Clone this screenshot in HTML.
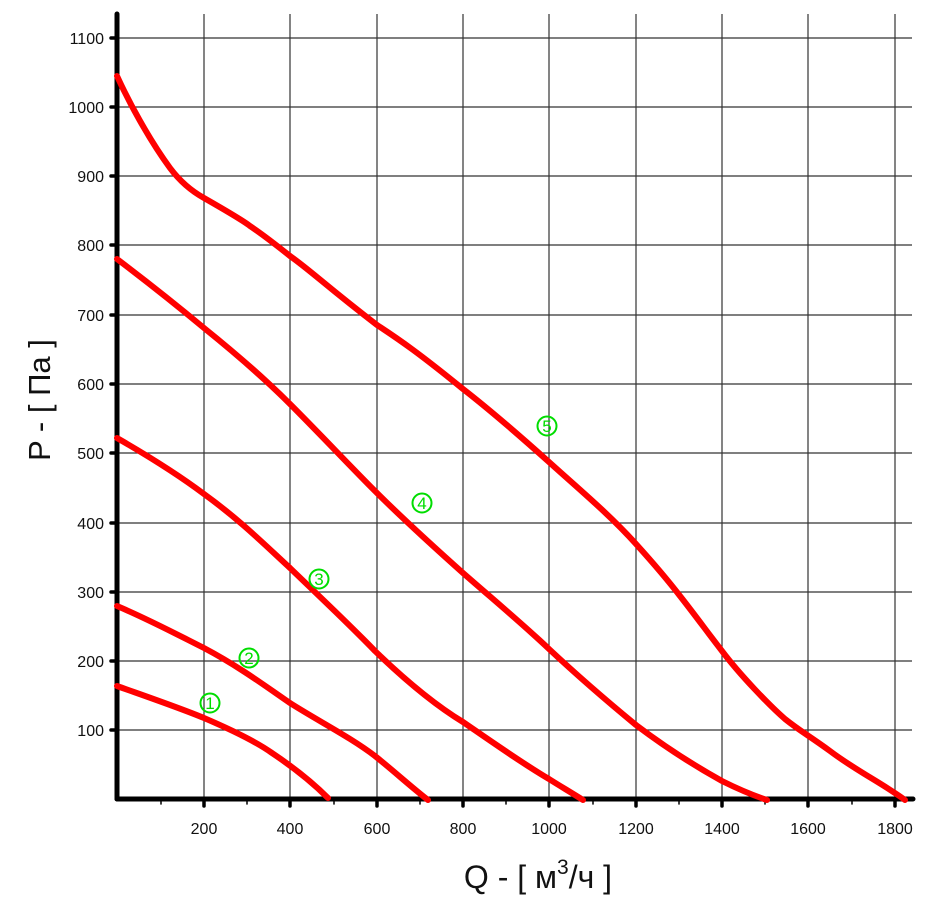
<!DOCTYPE html>
<html><head><meta charset="utf-8"><style>body{margin:0;background:#fff}svg{display:block}</style></head>
<body>
<svg width="928" height="900" viewBox="0 0 928 900" xmlns="http://www.w3.org/2000/svg" font-family="Liberation Sans, Arial, sans-serif">
<g stroke="#333" stroke-width="1.2">
<line x1="204" y1="14" x2="204" y2="799"/><line x1="290" y1="14" x2="290" y2="799"/><line x1="377" y1="14" x2="377" y2="799"/><line x1="463" y1="14" x2="463" y2="799"/><line x1="549" y1="14" x2="549" y2="799"/><line x1="636" y1="14" x2="636" y2="799"/><line x1="722" y1="14" x2="722" y2="799"/><line x1="808" y1="14" x2="808" y2="799"/><line x1="895" y1="14" x2="895" y2="799"/>
<line x1="117" y1="38" x2="912" y2="38"/><line x1="117" y1="107" x2="912" y2="107"/><line x1="117" y1="176" x2="912" y2="176"/><line x1="117" y1="245" x2="912" y2="245"/><line x1="117" y1="315" x2="912" y2="315"/><line x1="117" y1="384" x2="912" y2="384"/><line x1="117" y1="453" x2="912" y2="453"/><line x1="117" y1="523" x2="912" y2="523"/><line x1="117" y1="592" x2="912" y2="592"/><line x1="117" y1="661" x2="912" y2="661"/><line x1="117" y1="730" x2="912" y2="730"/>
</g>
<g stroke="#000" stroke-width="5" stroke-linecap="round">
<line x1="117" y1="14" x2="117" y2="799"/><line x1="117" y1="799" x2="913" y2="799"/>
<g stroke-width="3.5">
<line x1="111" y1="38" x2="117" y2="38"/><line x1="111" y1="107" x2="117" y2="107"/><line x1="111" y1="176" x2="117" y2="176"/><line x1="111" y1="245" x2="117" y2="245"/><line x1="111" y1="315" x2="117" y2="315"/><line x1="111" y1="384" x2="117" y2="384"/><line x1="111" y1="453" x2="117" y2="453"/><line x1="111" y1="523" x2="117" y2="523"/><line x1="111" y1="592" x2="117" y2="592"/><line x1="111" y1="661" x2="117" y2="661"/><line x1="111" y1="730" x2="117" y2="730"/>
<line x1="204" y1="799" x2="204" y2="806"/><line x1="290" y1="799" x2="290" y2="806"/><line x1="377" y1="799" x2="377" y2="806"/><line x1="463" y1="799" x2="463" y2="806"/><line x1="549" y1="799" x2="549" y2="806"/><line x1="636" y1="799" x2="636" y2="806"/><line x1="722" y1="799" x2="722" y2="806"/><line x1="808" y1="799" x2="808" y2="806"/><line x1="895" y1="799" x2="895" y2="806"/>
</g>
<g stroke-width="1.5">
<line x1="161" y1="799" x2="161" y2="804"/><line x1="247" y1="799" x2="247" y2="804"/><line x1="334" y1="799" x2="334" y2="804"/><line x1="420" y1="799" x2="420" y2="804"/><line x1="506" y1="799" x2="506" y2="804"/><line x1="593" y1="799" x2="593" y2="804"/><line x1="679" y1="799" x2="679" y2="804"/><line x1="765" y1="799" x2="765" y2="804"/><line x1="852" y1="799" x2="852" y2="804"/>
</g>
</g>
<g font-size="16" fill="#111" text-anchor="end">
<text x="104" y="44">1100</text><text x="104" y="113">1000</text><text x="104" y="182">900</text><text x="104" y="251">800</text><text x="104" y="321">700</text><text x="104" y="390">600</text><text x="104" y="459">500</text><text x="104" y="529">400</text><text x="104" y="598">300</text><text x="104" y="667">200</text><text x="104" y="736">100</text>
</g>
<g font-size="16" fill="#111" text-anchor="middle">
<text x="204" y="834">200</text><text x="290" y="834">400</text><text x="377" y="834">600</text><text x="463" y="834">800</text><text x="549" y="834">1000</text><text x="636" y="834">1200</text><text x="722" y="834">1400</text><text x="808" y="834">1600</text><text x="895" y="834">1800</text>
</g>
<g fill="none" stroke="#f00" stroke-width="6" stroke-linecap="round" stroke-linejoin="round">
<path d="M117,686 C145,696 180,708 204,718 C232,730 258,743 272,753 C290,765 310,780 328,798"/>
<path d="M117,606 C150,620 180,636 204,648 C240,667 268,688 290,703 C320,722 350,737 375,756 C395,772 410,786 428,800"/>
<path d="M117,438 C150,457 180,476 204,494 C240,520 265,545 290,568 C320,597 350,625 375,651 C405,680 435,705 463,722 C495,744 525,765 549,779 C560,786 572,793 583,800"/>
<path d="M117,259 C150,284 180,308 204,328 C240,357 268,382 290,404 C320,434 350,466 375,491 C405,521 435,548 463,573 C495,601 525,626 549,649 C580,678 608,702 636,725 C665,747 695,766 722,781 C740,790 755,796 767,800"/>
<path d="M117,76 C128,100 148,138 170,168 C182,184 195,193 204,198 C225,210 245,222 250,226 C265,236 280,248 290,256 C310,270 325,285 377,325 C400,340 420,354 463,389 C490,410 520,436 549,462 C580,490 610,515 636,544 C655,565 670,583 680,596 C695,615 708,633 722,651 C740,675 770,706 785,719 C800,731 808,735 830,751 C855,770 885,785 905,800"/>
</g>
<g font-size="17" fill="#0d0" text-anchor="middle" stroke="none">
<circle cx="210" cy="703" r="9.5" fill="none" stroke="#0d0" stroke-width="2"/><text x="210" y="709">1</text>
<circle cx="249" cy="658" r="9.5" fill="none" stroke="#0d0" stroke-width="2"/><text x="249" y="664">2</text>
<circle cx="319" cy="579" r="9.5" fill="none" stroke="#0d0" stroke-width="2"/><text x="319" y="585">3</text>
<circle cx="422" cy="503" r="9.5" fill="none" stroke="#0d0" stroke-width="2"/><text x="422" y="509">4</text>
<circle cx="547" cy="426" r="9.5" fill="none" stroke="#0d0" stroke-width="2"/><text x="547" y="432">5</text>
</g>
<text transform="translate(50,400) rotate(-90)" font-size="31" text-anchor="middle" fill="#111">P - [ Па ]</text>
<text x="538" y="888" font-size="32" text-anchor="middle" fill="#111">Q - [ м<tspan font-size="21" dy="-14">3</tspan><tspan dy="14">/ч ]</tspan></text>
</svg>
</body></html>
